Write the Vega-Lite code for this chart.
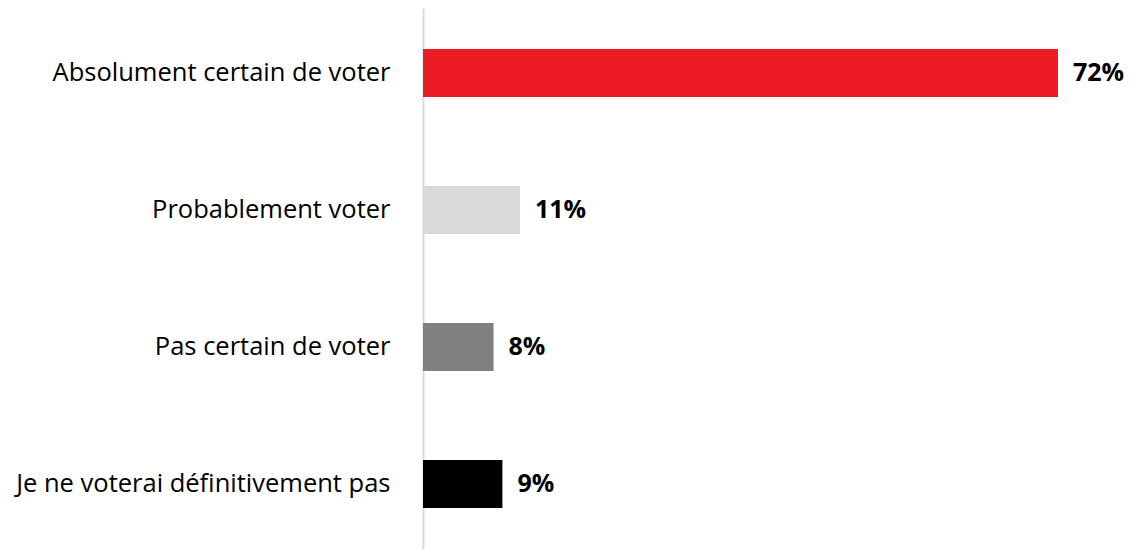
{
  "$schema": "https://vega.github.io/schema/vega-lite/v6.json",
  "autosize": {"type": "none"},
  "padding": {"left": 423, "top": 8, "right": 76, "bottom": 3},
  "width": 635,
  "height": 541,
  "background": "white",
  "data": {"values": [
    {"cat": "Absolument certain de voter", "pct": 72, "label": "72%"},
    {"cat": "Probablement voter", "pct": 11, "label": "11%"},
    {"cat": "Pas certain de voter", "pct": 8, "label": "8%"},
    {"cat": "Je ne voterai définitivement pas", "pct": 9, "label": "9%"}
  ]},
  "config": {"view": {"stroke": null}},
  "encoding": {
    "y": {
      "field": "cat", "type": "nominal",
      "sort": ["Absolument certain de voter", "Probablement voter", "Pas certain de voter", "Je ne voterai définitivement pas"],
      "scale": {"paddingInner": 0.65, "paddingOuter": 0.3},
      "axis": {"title": null, "ticks": false, "grid": false, "domainColor": "#D9D9D9", "domainWidth": 2,
        "labelFont": "Open Sans", "labelFontSize": 25.5, "labelColor": "#000000", "labelPadding": 33, "labelLimit": 500}
    },
    "x": {"field": "pct", "type": "quantitative", "scale": {"domain": [0, 72]}, "axis": null}
  },
  "layer": [
    {
      "mark": {"type": "bar"},
      "encoding": {
        "color": {"field": "cat", "type": "nominal", "legend": null,
          "scale": {"domain": ["Absolument certain de voter", "Probablement voter", "Pas certain de voter", "Je ne voterai définitivement pas"],
                    "range": ["#ED1C24", "#D9D9D9", "#808080", "#000000"]}}
      }
    },
    {
      "mark": {"type": "text", "align": "left", "baseline": "middle", "dx": 15, "font": "Open Sans", "fontSize": 25, "fontWeight": "bold", "color": "#000000"},
      "encoding": {"text": {"field": "label"}}
    }
  ]
}
